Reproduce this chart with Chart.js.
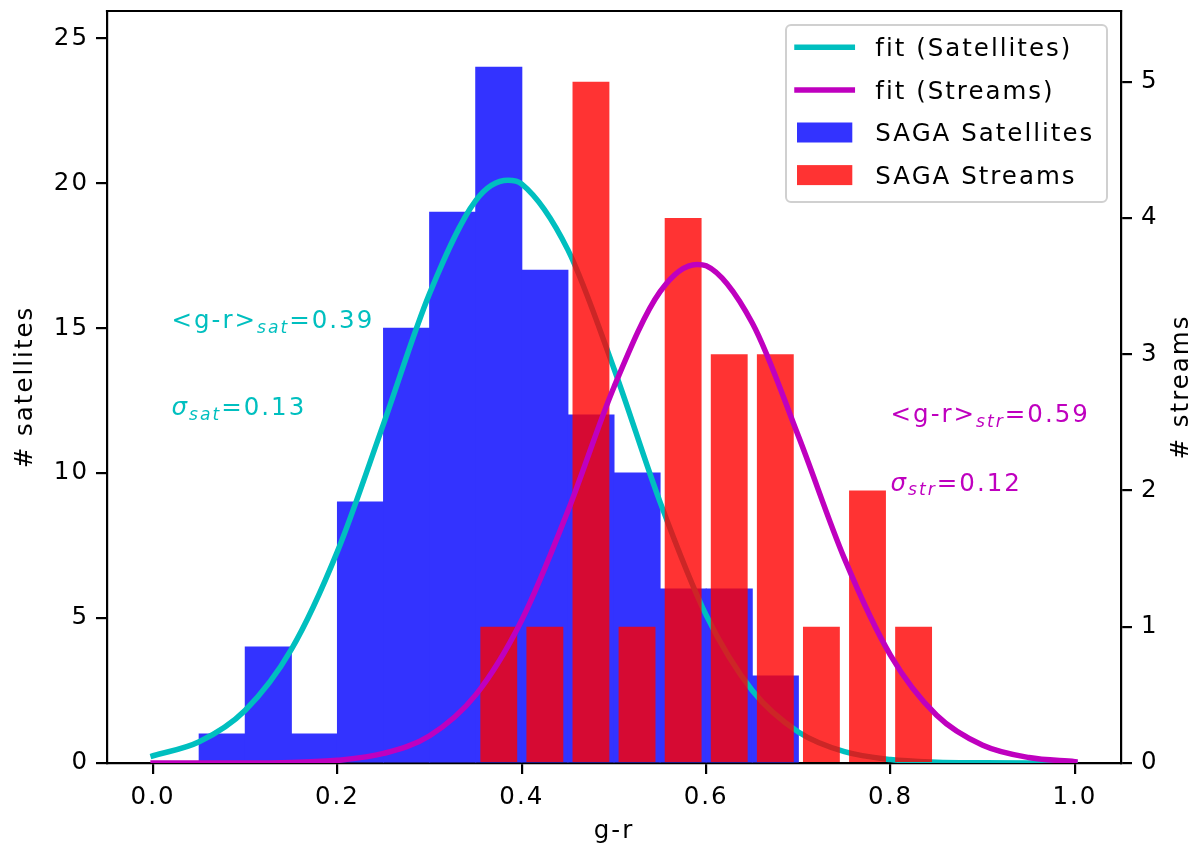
<!DOCTYPE html>
<html>
<head>
<meta charset="utf-8">
<script src="https://cdn.jsdelivr.net/npm/chart.js@4.4.0/dist/chart.umd.min.js"></script>
<style>
  html, body { margin: 0; padding: 0; background: #fff; }
  #wrap { width: 1200px; height: 854px; }
</style>
</head>
<body>
<div id="wrap"><canvas id="chart" width="1200" height="854"></canvas></div>
<script>
// histogram bins (centres, bin width 0.05) and counts
const satBinCenters = [0.075, 0.125, 0.175, 0.225, 0.275, 0.325, 0.375, 0.425, 0.475, 0.525, 0.575, 0.625, 0.675];
const satCounts = [1, 4, 1, 9, 15, 19, 24, 17, 12, 10, 6, 6, 3];
const strBinCenters = [0.375, 0.425, 0.475, 0.525, 0.575, 0.625, 0.675, 0.725, 0.775, 0.825];
const strCounts = [1, 1, 5, 1, 4, 3, 3, 1, 2, 1];

// gaussian fit curves
const satFitX = [0, 0.05, 0.1, 0.15, 0.2, 0.25, 0.3, 0.35, 0.385, 0.4, 0.45, 0.5, 0.55, 0.6, 0.65, 0.7, 0.75, 0.8, 0.85, 0.9, 0.95, 1.0];
const satFitY = [0.25, 0.73, 1.82, 3.92, 7.3, 11.7, 16.2, 19.4, 20.1, 19.97, 17.7, 13.6, 9.0, 5.1, 2.5, 1.07, 0.39, 0.12, 0.03, 0.01, 0, 0];
const strFitX = [0, 0.05, 0.1, 0.15, 0.2, 0.25, 0.3, 0.35, 0.4, 0.45, 0.5, 0.55, 0.59, 0.6, 0.65, 0.7, 0.75, 0.8, 0.85, 0.9, 0.95, 1.0];
const strFitY = [0, 0, 0, 0.004, 0.02, 0.07, 0.2, 0.5, 1.05, 1.85, 2.76, 3.46, 3.66, 3.65, 3.23, 2.4, 1.5, 0.79, 0.35, 0.13, 0.04, 0.01];

const xTicks = [0, 0.2, 0.4, 0.6, 0.8, 1.0];
const satTicks = [0, 5, 10, 15, 20, 25];
const strTicks = [0, 1, 2, 3, 4, 5];

// fit annotations (data coords)
const notes = [
  { axis: 'y', x: 0.02, y: 15, color: '#00bfbf', parts: [['<g-r>', ''], ['sat', 'sub'], ['=0.39', '']] },
  { axis: 'y', x: 0.02, y: 12, color: '#00bfbf', parts: [['σ', 'it'], ['sat', 'sub'], ['=0.13', '']] },
  { axis: 'y2', x: 0.8, y: 2.5, color: '#bf00bf', parts: [['<g-r>', ''], ['str', 'sub'], ['=0.59', '']] },
  { axis: 'y2', x: 0.8, y: 2.0, color: '#bf00bf', parts: [['σ', 'it'], ['str', 'sub'], ['=0.12', '']] }
];

const FONT = '"DejaVu Sans", sans-serif';
const FS = 24.5;
const SPACING = '2px';
const LW = 2.2;

function drawParts(ctx, x, y, parts, color) {
  ctx.fillStyle = color;
  ctx.textAlign = 'left';
  ctx.textBaseline = 'alphabetic';
  for (const [txt, kind] of parts) {
    let dy = 0;
    if (kind === 'sub') {
      ctx.font = `italic ${FS * 0.7}px ${FONT}`;
      dy = FS * 0.2;
    } else if (kind === 'it') {
      ctx.font = `italic ${FS}px ${FONT}`;
    } else {
      ctx.font = `${FS}px ${FONT}`;
    }
    ctx.fillText(txt, x, y + dy);
    x += ctx.measureText(txt).width;
  }
}

const decorations = {
  id: 'decorations',
  beforeDraw(chart) {
    chart.ctx.letterSpacing = SPACING;
  },
  afterDraw(chart) {
    const { ctx, chartArea: a, scales } = chart;
    ctx.save();
    ctx.letterSpacing = SPACING;

    // top spine
    ctx.strokeStyle = '#000';
    ctx.lineWidth = LW;
    ctx.beginPath();
    ctx.moveTo(a.left - LW / 2, a.top);
    ctx.lineTo(a.right + LW / 2, a.top);
    ctx.stroke();

    // axis titles
    ctx.fillStyle = '#000';
    ctx.font = `${FS}px ${FONT}`;
    ctx.textAlign = 'center';
    ctx.textBaseline = 'alphabetic';
    ctx.fillText('g-r', (a.left + a.right) / 2, a.bottom + 75);
    const midY = (a.top + a.bottom) / 2;
    [['# satellites', a.left - 74.7], ['# streams', a.right + 67.3]].forEach(([t, bx]) => {
      ctx.save();
      ctx.translate(bx, midY);
      ctx.rotate(-Math.PI / 2);
      ctx.fillText(t, 0, 0);
      ctx.restore();
    });

    // annotations
    notes.forEach(n => {
      drawParts(ctx, scales.x.getPixelForValue(n.x), scales[n.axis].getPixelForValue(n.y), n.parts, n.color);
    });

    // legend
    const w = 321, h = 177;
    const left = a.right - 14 - w, top = a.top + 14;
    ctx.beginPath();
    ctx.roundRect(left, top, w, h, 5);
    ctx.fillStyle = 'rgba(255,255,255,0.8)';
    ctx.fill();
    ctx.strokeStyle = '#d0d0d0';
    ctx.lineWidth = 2;
    ctx.stroke();
    chart.data.datasets.forEach((ds, i) => {
      const cy = top + 22.3 + i * 42.6;
      if (ds.type === 'line') {
        ctx.strokeStyle = ds.borderColor;
        ctx.lineWidth = ds.borderWidth;
        ctx.lineCap = 'square';
        ctx.beginPath();
        ctx.moveTo(left + 11, cy);
        ctx.lineTo(left + 66.3, cy);
        ctx.stroke();
      } else {
        ctx.fillStyle = ds.backgroundColor;
        ctx.fillRect(left + 11, cy - 10, 55.3, 20);
      }
      ctx.fillStyle = '#000';
      ctx.font = `${FS}px ${FONT}`;
      ctx.textAlign = 'left';
      ctx.fillText(ds.label, left + 89.3, cy + 0.365 * FS);
    });
    ctx.restore();
  }
};

function fixSize(prop, size) {
  return s => {
    s[prop] = size;
    s.paddingLeft = s.paddingRight = s.paddingTop = s.paddingBottom = 0;
  };
}

function axisStyle(extra) {
  return Object.assign({
    z: 1,
    grid: { drawOnChartArea: false, drawTicks: true, tickLength: 11, color: '#000', lineWidth: LW, offset: false },
    border: { display: true, color: '#000', width: LW },
  }, extra);
}

new Chart(document.getElementById('chart'), {
  type: 'bar',
  data: {
    datasets: [
      {
        type: 'line', label: 'fit (Satellites)',
        data: satFitX.map((x, i) => ({ x, y: satFitY[i] })),
        yAxisID: 'y', borderColor: '#00bfbf', borderWidth: 5.5, borderCapStyle: 'square',
        pointRadius: 0, cubicInterpolationMode: 'monotone', fill: false, order: 3
      },
      {
        type: 'line', label: 'fit (Streams)',
        data: strFitX.map((x, i) => ({ x, y: strFitY[i] })),
        yAxisID: 'y2', borderColor: '#bf00bf', borderWidth: 5.5, borderCapStyle: 'square',
        pointRadius: 0, cubicInterpolationMode: 'monotone', fill: false, order: 1
      },
      {
        // blue at alpha 0.8 over white, drawn opaque so neighbouring bins don't seam
        type: 'bar', label: 'SAGA Satellites',
        data: satBinCenters.map((x, i) => ({ x, y: satCounts[i] })),
        yAxisID: 'y', backgroundColor: '#3333ff', borderWidth: 0,
        barPercentage: 1, categoryPercentage: 1, grouped: false, inflateAmount: 0.5, order: 4
      },
      {
        type: 'bar', label: 'SAGA Streams',
        data: strBinCenters.map((x, i) => ({ x, y: strCounts[i] })),
        yAxisID: 'y2', backgroundColor: 'rgba(255,0,0,0.8)', borderWidth: 0,
        barPercentage: 0.8, categoryPercentage: 1, grouped: false, inflateAmount: 0, order: 2
      }
    ]
  },
  options: {
    responsive: false,
    devicePixelRatio: 1,
    animation: false,
    events: [],
    layout: { padding: { top: 11, left: 0, right: 0, bottom: 0 } },
    plugins: { legend: { display: false }, tooltip: { enabled: false } },
    scales: {
      x: axisStyle({
        type: 'linear', position: 'bottom', min: -0.05, max: 1.05, offset: false,
        ticks: { color: '#000', font: { family: FONT, size: FS }, padding: 9, maxRotation: 0, callback: v => v.toFixed(1) },
        afterBuildTicks: s => { s.ticks = xTicks.map(v => ({ value: v })); },
        afterFit: fixSize('height', 91)
      }),
      y: axisStyle({
        type: 'linear', position: 'left', min: 0, max: 25.94,
        ticks: { color: '#000', font: { family: FONT, size: FS }, padding: 7, callback: v => String(v) },
        afterBuildTicks: s => { s.ticks = satTicks.map(v => ({ value: v })); },
        afterFit: fixSize('width', 107)
      }),
      y2: axisStyle({
        type: 'linear', position: 'right', min: 0, max: 5.52,
        ticks: { color: '#000', font: { family: FONT, size: FS }, padding: 9, callback: v => String(v) },
        afterBuildTicks: s => { s.ticks = strTicks.map(v => ({ value: v })); },
        afterFit: fixSize('width', 79)
      })
    }
  },
  plugins: [decorations]
});
</script>
</body>
</html>
